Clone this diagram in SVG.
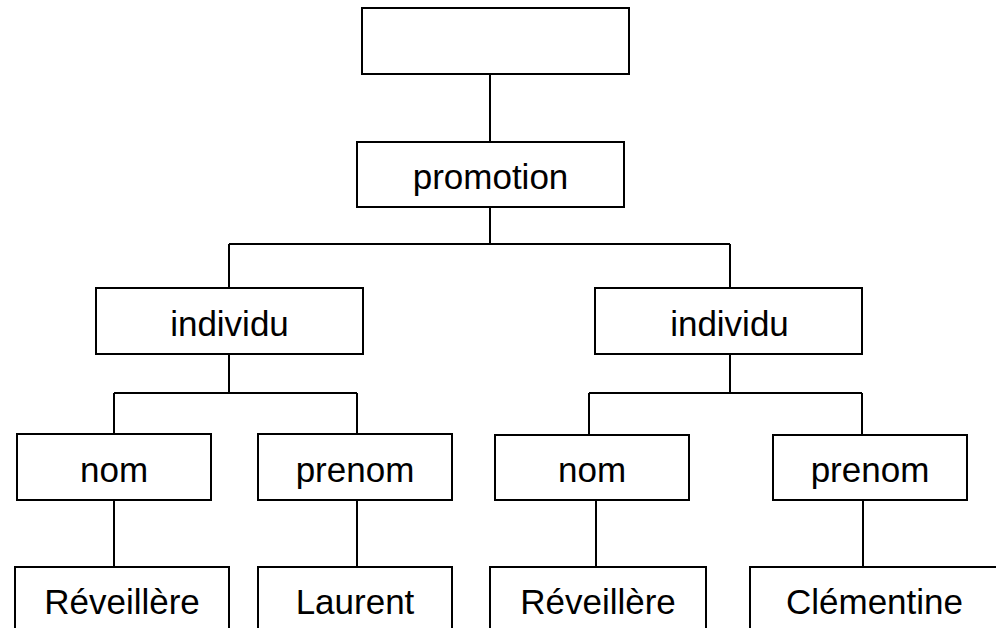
<svg xmlns="http://www.w3.org/2000/svg" width="996" height="628" viewBox="0 0 996 628">
<style>
rect{fill:#fff;stroke:#000;stroke-width:2}
text{font-family:"Liberation Sans",Arial,sans-serif;font-size:35px;fill:#000;text-anchor:middle}
.c path{fill:none;stroke:#000;stroke-width:2}
</style>
<rect x="0" y="0" width="996" height="628" style="stroke:none"/>
<g class="c" id="connectors">
<path d="M490 74V142"/>
<path d="M490 207V244M229 244H730M229 244V288M730 244V288"/>
<path d="M229 354V393M114 393H357M114 393V434M357 393V434"/>
<path d="M730 354V393M589 393H862M589 393V435M862 393V435"/>
<path d="M114 500V567M357 500V567M596 500V567M863 500V567"/>
</g>
<g id="root"><rect x="362" y="8" width="267" height="66"/></g>
<g id="promotion"><rect x="357" y="142" width="267" height="65"/><text x="490.5" y="188.5">promotion</text></g>
<g id="individu1"><rect x="96" y="288" width="267" height="66"/><text x="229.5" y="335.5">individu</text></g>
<g id="individu2"><rect x="595" y="288" width="267" height="66"/><text x="729.5" y="335.5">individu</text></g>
<g id="nom1"><rect x="17" y="434" width="194" height="66"/><text x="114" y="481.5">nom</text></g>
<g id="prenom1"><rect x="258" y="434" width="194" height="66"/><text x="355" y="481.5">prenom</text></g>
<g id="nom2"><rect x="495" y="435" width="194" height="65"/><text x="592" y="481.5">nom</text></g>
<g id="prenom2"><rect x="773" y="435" width="194" height="65"/><text x="870" y="481.5">prenom</text></g>
<g id="leaf1"><rect x="15" y="567" width="214" height="80"/><text x="122" y="613.5">Réveillère</text></g>
<g id="leaf2"><rect x="258" y="567" width="194" height="80"/><text x="355" y="613.5">Laurent</text></g>
<g id="leaf3"><rect x="490" y="567" width="216" height="80"/><text x="598" y="613.5">Réveillère</text></g>
<g id="leaf4"><rect x="750" y="567" width="260" height="80"/><text x="874.5" y="613.5">Clémentine</text></g>
</svg>
